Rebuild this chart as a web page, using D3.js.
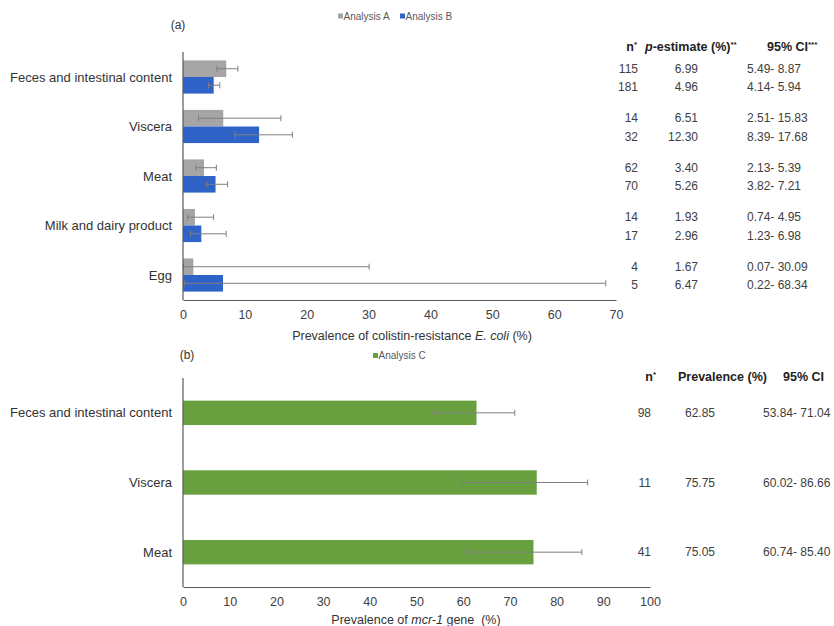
<!DOCTYPE html>
<html><head><meta charset="utf-8">
<script src="https://cdn.jsdelivr.net/npm/d3@7/dist/d3.min.js"></script>
<style>body{margin:0;background:#fff}svg{display:block;font-family:"Liberation Sans",Arial,sans-serif}</style>
</head><body><svg id="c" width="834" height="626"></svg>
<script>
// ---- Panel (a) data ----
const categoriesA = ["Feces and intestinal content","Viscera","Meat","Milk and dairy product","Egg"];
const nA   = [115, 14, 62, 14, 4];
const estA = [6.99, 6.51, 3.40, 1.93, 1.67];
const loA  = [5.49, 2.51, 2.13, 0.74, 0.07];
const hiA  = [8.87, 15.83, 5.39, 4.95, 30.09];
const nB   = [181, 32, 70, 17, 5];
const estB = [4.96, 12.30, 5.26, 2.96, 6.47];
const loB  = [4.14, 8.39, 3.82, 1.23, 0.22];
const hiB  = [5.94, 17.68, 7.21, 6.98, 68.34];
const ticksA = [0,10,20,30,40,50,60,70];
// ---- Panel (b) data ----
const categoriesC = ["Feces and intestinal content","Viscera","Meat"];
const nC   = [98, 11, 41];
const estC = [62.85, 75.75, 75.05];
const loC  = [53.84, 60.02, 60.74];
const hiC  = [71.04, 86.66, 85.40];
const ticksC = [0,10,20,30,40,50,60,70,80,90,100];

const colA = "#a5a5a5", colB = "#2f63c7", colC = "#68a040", errCol = "#7f7f7f";
const txt = "#404040";
const svg = d3.select("#c");
const fmt2 = d3.format(".2f");

// ===== Panel (a) =====
const xA = d3.scaleLinear().domain([0,70]).range([183,616]);
const yA = d3.scaleBand().domain(categoriesA).range([52,300]).paddingInner(0.33).paddingOuter(0.17);
const sub = d3.scaleBand().domain(["A","B"]).range([0,yA.bandwidth()]);

const rowsA = [];
categoriesA.forEach((c,i)=>{
  rowsA.push({cat:c,s:"A",n:nA[i],v:estA[i],lo:loA[i],hi:hiA[i]});
  rowsA.push({cat:c,s:"B",n:nB[i],v:estB[i],lo:loB[i],hi:hiB[i]});
});
const cy = d => yA(d.cat)+sub(d.s)+sub.bandwidth()/2;

const gA = svg.append("g");
gA.selectAll("rect.bar").data(rowsA).join("rect")
  .attr("x",xA(0)).attr("y",d=>yA(d.cat)+sub(d.s))
  .attr("width",d=>xA(d.v)-xA(0)).attr("height",sub.bandwidth())
  .attr("fill",d=>d.s==="A"?colA:colB);
// error bars
const eA = gA.selectAll("g.err").data(rowsA).join("g").attr("stroke",errCol).attr("stroke-width",1);
eA.append("line").attr("x1",d=>xA(d.lo)).attr("x2",d=>xA(d.hi)).attr("y1",cy).attr("y2",cy);
eA.append("line").attr("x1",d=>xA(d.lo)).attr("x2",d=>xA(d.lo)).attr("y1",d=>cy(d)-3).attr("y2",d=>cy(d)+3);
eA.append("line").attr("x1",d=>xA(d.hi)).attr("x2",d=>xA(d.hi)).attr("y1",d=>cy(d)-3).attr("y2",d=>cy(d)+3);

// axes
const axA = gA.append("g").attr("transform","translate(0,300)")
  .call(d3.axisBottom(xA).tickValues(ticksA).tickSize(0).tickPadding(10));
axA.select(".domain").attr("stroke","#595959").attr("stroke-width",1.2);
axA.selectAll("text").attr("font-size",12.5).attr("fill",txt).attr("font-family","Liberation Sans, Arial, sans-serif");
gA.append("line").attr("x1",xA(0)).attr("x2",xA(0)).attr("y1",52).attr("y2",300).attr("stroke","#595959").attr("stroke-width",1.2);
// category labels
gA.selectAll("text.cat").data(categoriesA).join("text")
  .attr("x",172).attr("y",d=>yA(d)+yA.bandwidth()/2).attr("dy","0.35em")
  .attr("text-anchor","end").attr("font-size",13).attr("fill","#333").text(d=>d);
// axis title
const tA = gA.append("text").attr("x",412).attr("y",340).attr("text-anchor","middle").attr("font-size",12.5).attr("fill","#333");
tA.append("tspan").text("Prevalence of colistin-resistance ");
tA.append("tspan").attr("font-style","italic").text("E. coli");
tA.append("tspan").text(" (%)");
// (a) label
gA.append("text").attr("x",178).attr("y",29).attr("text-anchor","middle").attr("font-size",12).attr("fill","#333").text("(a)");
// legend
const legA = [{t:"Analysis A",c:colA,x:338},{t:"Analysis B",c:colB,x:400}];
legA.forEach(l=>{
  gA.append("rect").attr("x",l.x).attr("y",13.5).attr("width",5).attr("height",5).attr("fill",l.c);
  gA.append("text").attr("x",l.x+5.5).attr("y",19.5).attr("font-size",10).attr("fill","#595959").text(l.t);
});
// table header
const hA = gA.append("g").attr("font-weight","bold").attr("font-size",12.5).attr("fill","#222");
const h1 = hA.append("text").attr("x",637).attr("y",51).attr("text-anchor","end");
h1.append("tspan").text("n"); h1.append("tspan").attr("font-size",8).attr("dy",-4).text("*");
const h2 = hA.append("text").attr("x",645).attr("y",51);
h2.append("tspan").attr("font-style","italic").text("p");
h2.append("tspan").text("-estimate (%)");
h2.append("tspan").attr("font-size",8).attr("dy",-4).text("**");
const h3 = hA.append("text").attr("x",767).attr("y",51);
h3.append("tspan").text("95% CI"); h3.append("tspan").attr("font-size",8).attr("dy",-4).text("***");
// table rows
const tb = gA.append("g").attr("font-size",12).attr("fill",txt);
tb.selectAll("text.n").data(rowsA).join("text").attr("x",638).attr("y",d=>cy(d)+(d.s==="A"?0:2)).attr("dy","0.35em").attr("text-anchor","end").text(d=>d.n);
tb.selectAll("text.p").data(rowsA).join("text").attr("x",698).attr("y",d=>cy(d)+(d.s==="A"?0:2)).attr("dy","0.35em").attr("text-anchor","end").text(d=>fmt2(d.v));
tb.selectAll("text.ci").data(rowsA).join("text").attr("x",747).attr("y",d=>cy(d)+(d.s==="A"?0:2)).attr("dy","0.35em").text(d=>fmt2(d.lo)+"- "+fmt2(d.hi));

// ===== Panel (b) =====
const xC = d3.scaleLinear().domain([0,100]).range([183,650]);
const yC = d3.scaleBand().domain(categoriesC).range([378,587]).paddingInner(0.65).paddingOuter(0.325);
const rowsC = categoriesC.map((c,i)=>({cat:c,n:nC[i],v:estC[i],lo:loC[i],hi:hiC[i]}));
const cyC = d => yC(d.cat)+yC.bandwidth()/2;
const gC = svg.append("g");
gC.selectAll("rect").data(rowsC).join("rect")
  .attr("x",xC(0)).attr("y",d=>yC(d.cat)).attr("width",d=>xC(d.v)-xC(0)).attr("height",yC.bandwidth()).attr("fill",colC);
const eC = gC.selectAll("g.err").data(rowsC).join("g").attr("stroke",errCol).attr("stroke-width",1);
eC.append("line").attr("x1",d=>xC(d.lo)).attr("x2",d=>xC(d.hi)).attr("y1",cyC).attr("y2",cyC);
eC.append("line").attr("x1",d=>xC(d.lo)).attr("x2",d=>xC(d.lo)).attr("y1",d=>cyC(d)-3).attr("y2",d=>cyC(d)+3);
eC.append("line").attr("x1",d=>xC(d.hi)).attr("x2",d=>xC(d.hi)).attr("y1",d=>cyC(d)-3).attr("y2",d=>cyC(d)+3);
const axC = gC.append("g").attr("transform","translate(0,587)")
  .call(d3.axisBottom(xC).tickValues(ticksC).tickSize(0).tickPadding(10));
axC.select(".domain").attr("stroke","#595959").attr("stroke-width",1.2);
axC.selectAll("text").attr("font-size",12.5).attr("fill",txt).attr("font-family","Liberation Sans, Arial, sans-serif");
gC.append("line").attr("x1",xC(0)).attr("x2",xC(0)).attr("y1",378).attr("y2",587).attr("stroke","#595959").attr("stroke-width",1.2);
gC.selectAll("text.cat").data(categoriesC).join("text")
  .attr("x",172).attr("y",d=>yC(d)+yC.bandwidth()/2).attr("dy","0.35em")
  .attr("text-anchor","end").attr("font-size",13).attr("fill","#333").text(d=>d);
const tC = gC.append("text").attr("x",416).attr("y",624).attr("text-anchor","middle").attr("font-size",12.5).attr("fill","#333");
tC.append("tspan").text("Prevalence of ");
tC.append("tspan").attr("font-style","italic").text("mcr-1");
tC.append("tspan").attr("xml:space","preserve").text(" gene  (%)");
gC.append("text").attr("x",187).attr("y",359).attr("text-anchor","middle").attr("font-size",12).attr("fill","#333").text("(b)");
gC.append("rect").attr("x",373).attr("y",353).attr("width",5).attr("height",5).attr("fill",colC);
gC.append("text").attr("x",378.5).attr("y",359).attr("font-size",10).attr("fill","#595959").text("Analysis C");
const hC = gC.append("g").attr("font-weight","bold").attr("font-size",12.5).attr("fill","#222");
const k1 = hC.append("text").attr("x",656).attr("y",381).attr("text-anchor","end");
k1.append("tspan").text("n"); k1.append("tspan").attr("font-size",8).attr("dy",-4).text("*");
hC.append("text").attr("x",678).attr("y",381).text("Prevalence (%)");
hC.append("text").attr("x",783).attr("y",381).text("95% CI");
const tbC = gC.append("g").attr("font-size",12).attr("fill",txt);
tbC.selectAll("text.n").data(rowsC).join("text").attr("x",651).attr("y",cyC).attr("dy","0.35em").attr("text-anchor","end").text(d=>d.n);
tbC.selectAll("text.p").data(rowsC).join("text").attr("x",700).attr("y",cyC).attr("dy","0.35em").attr("text-anchor","middle").text(d=>fmt2(d.v));
tbC.selectAll("text.ci").data(rowsC).join("text").attr("x",763).attr("y",cyC).attr("dy","0.35em").text(d=>fmt2(d.lo)+"- "+fmt2(d.hi));
</script></body></html>
